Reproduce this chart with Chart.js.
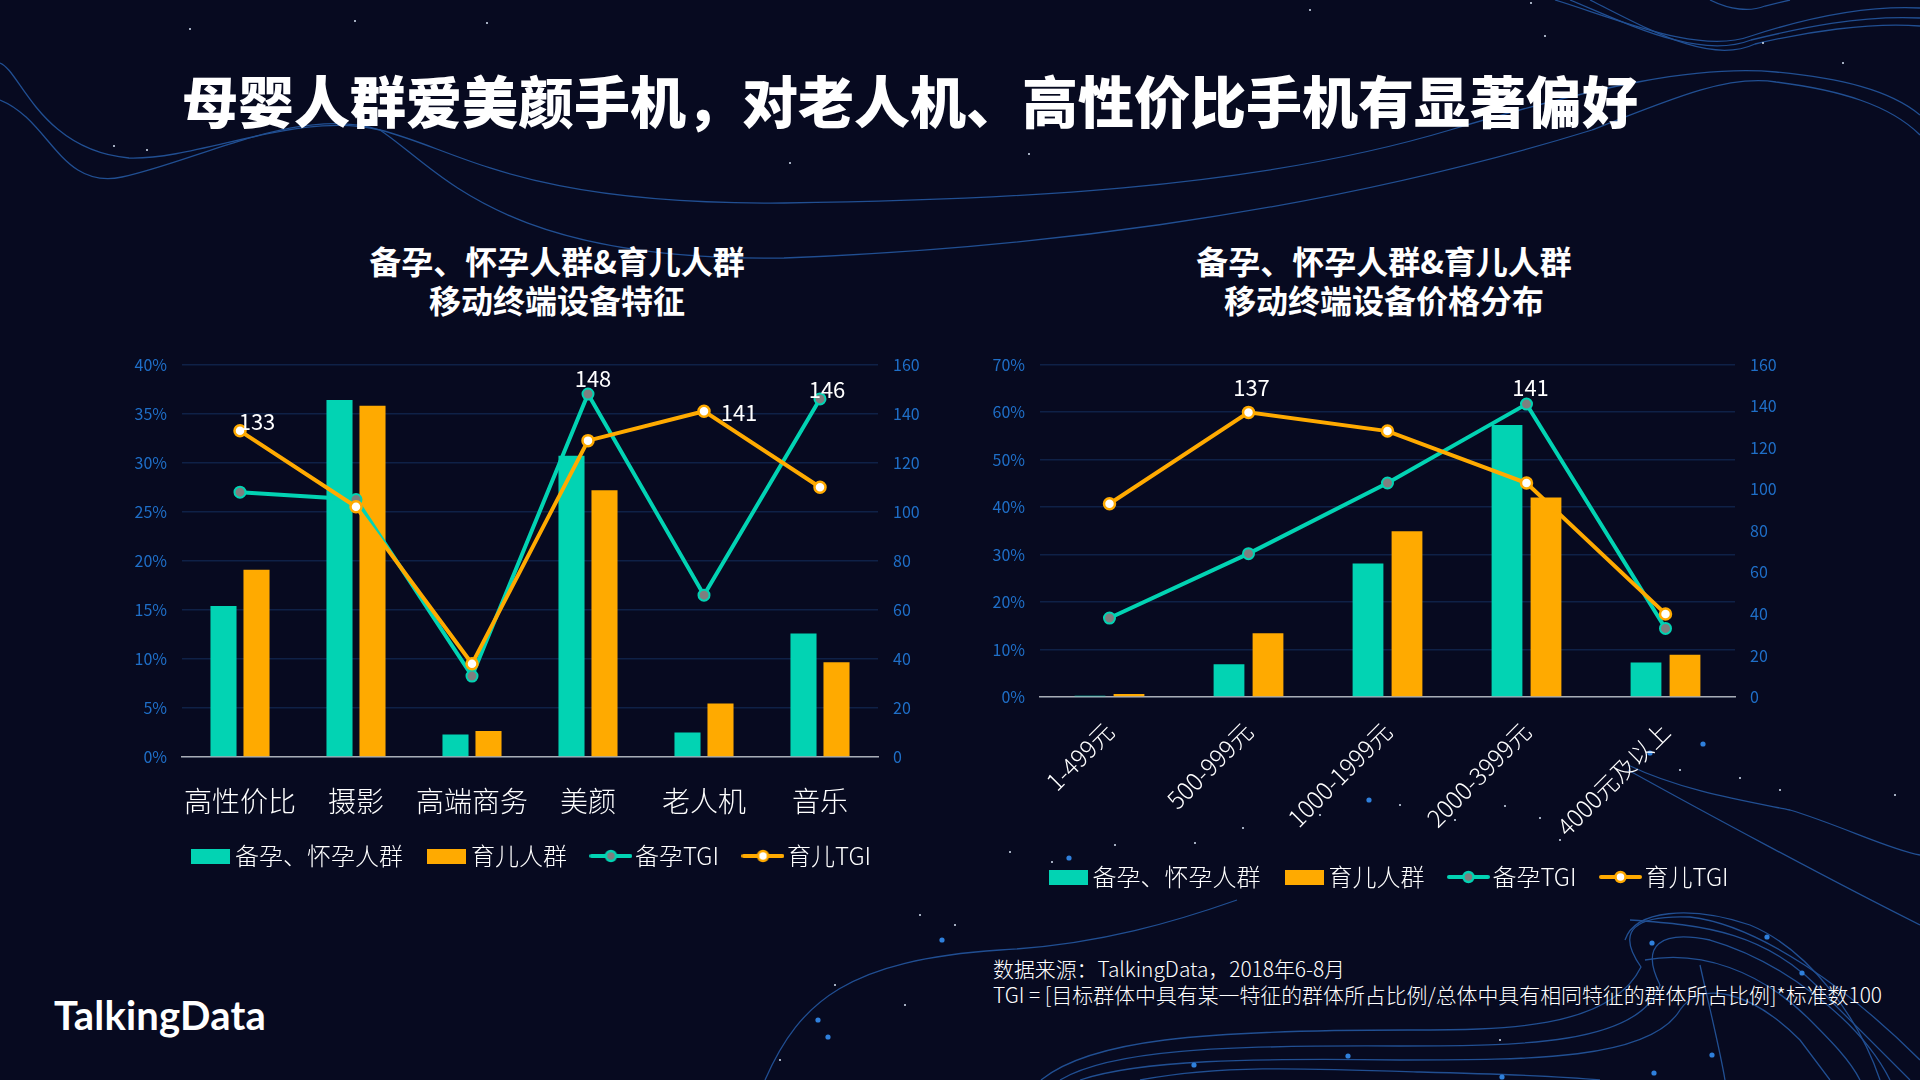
<!DOCTYPE html>
<html lang="zh">
<head>
<meta charset="utf-8">
<title>母婴人群爱美颜手机</title>
<script src="https://cdn.jsdelivr.net/npm/chart.js@4"></script>
<style>
  html, body { margin: 0; padding: 0; background: #070a20; }
  #page { position: relative; width: 1920px; height: 1080px; overflow: hidden; background: #070a20; font-family: "Noto Sans CJK SC", sans-serif; color: #fff; }
  #bg { position: absolute; left: 0; top: 0; }
  canvas { position: absolute; }
  .text { position: absolute; white-space: nowrap; }
  #title { left: 182px; top: 59px; font-size: 56px; line-height: 80px; font-weight: 900; }
  .sub { font-size: 32px; line-height: 39px; font-weight: 700; text-align: center; width: 600px; top: 241px; }
  #note { left: 993px; top: 955px; font-size: 20.9px; line-height: 26px; font-weight: 300; }
  #logo { left: 54px; top: 990px; font-family: Lato, sans-serif; font-size: 40px; line-height: 50px; font-weight: 700; letter-spacing: 0.2px; }
</style>
</head>
<body>
<div id="page">
  <svg id="bg" width="1920" height="1080" fill="none" stroke="#2a66b8" stroke-width="1.3">
    <g opacity="0.75">
      <path d="M0 63 C20 70 40 150 129 158 C200 160 300 110 380 130 C460 150 520 205 784 203 C1000 200 1250 190 1450 130 C1600 85 1700 65 1776 72 C1840 78 1890 90 1920 115"/>
      <path d="M0 100 C50 120 60 190 122 177 C200 160 300 105 380 130 C440 170 500 262 784 258 C1000 250 1300 220 1592 130 C1680 95 1730 75 1776 82 C1840 90 1890 105 1920 135"/>
      <path d="M1555 0 C1620 20 1700 55 1751 36 C1800 20 1860 5 1920 8"/>
      <path d="M1570 0 C1630 25 1700 60 1751 40 C1800 28 1860 15 1920 18"/>
      <path d="M1590 0 C1650 30 1710 65 1755 44 C1805 32 1870 22 1920 26"/>
      <path d="M1710 0 C1730 10 1750 12 1765 6 L1790 0"/>
      <path d="M765 1080 C800 1000 850 960 1000 950 C1100 945 1180 920 1237 900"/>
      <path d="M1041 1080 C1090 1040 1200 1030 1408 1030 C1500 1030 1610 1030 1641 967 C1615 930 1635 915 1690 917 C1760 925 1850 990 1920 1060"/>
      <path d="M1060 1080 C1110 1050 1220 1045 1400 1046 C1520 1046 1640 1045 1660 985 C1640 945 1660 930 1710 940 C1780 960 1860 1020 1890 1080"/>
      <path d="M1080 1080 C1140 1060 1250 1058 1400 1060 C1530 1060 1650 1060 1680 1010 C1700 980 1750 990 1800 1040 L1830 1080"/>
      <path d="M1140 1080 C1220 1065 1300 1068 1420 1072 C1500 1074 1560 1076 1600 1080"/>
      <path d="M1700 965 C1710 1010 1720 1050 1725 1080"/>
      <path d="M1628 765 C1680 790 1740 800 1790 810 C1840 825 1890 850 1920 855"/>
      <path d="M1628 770 C1700 810 1830 880 1920 925"/>
      <path d="M1630 920 C1700 925 1770 930 1830 1000 C1860 1030 1890 1060 1910 1080"/>
      <path d="M1625 940 C1635 910 1690 905 1750 925 C1810 950 1860 1020 1880 1080"/>
      <path d="M1645 960 C1700 950 1760 970 1810 1020 C1830 1040 1850 1060 1860 1080"/>
    </g>
    <g fill="#2f80dc" stroke="none">
      <circle cx="942" cy="940" r="2.6"/><circle cx="818" cy="1020" r="2.6"/><circle cx="828" cy="1037" r="2.6"/>
      <circle cx="1194" cy="1065" r="2.6"/><circle cx="1348" cy="1056" r="2.6"/><circle cx="1652" cy="943" r="2.6"/>
      <circle cx="1767" cy="937" r="2.6"/><circle cx="1802" cy="973" r="2.6"/><circle cx="1502" cy="1077" r="2.6"/>
      <circle cx="1654" cy="1073" r="2.6"/><circle cx="1712" cy="1055" r="2.6"/><circle cx="1703" cy="744" r="2.6"/>
      <circle cx="1650" cy="753" r="2.6"/><circle cx="1369" cy="800" r="2.6"/><circle cx="1069" cy="858" r="2.6"/>
    </g>
    <g fill="#d8e4f5" stroke="none">
      <circle cx="190" cy="29" r="1"/><circle cx="355" cy="21" r="1"/><circle cx="487" cy="23" r="1"/>
      <circle cx="790" cy="163" r="1"/><circle cx="114" cy="146" r="1"/><circle cx="147" cy="150" r="1"/>
      <circle cx="1029" cy="154" r="1"/><circle cx="1531" cy="3" r="1"/><circle cx="1545" cy="36" r="1"/>
      <circle cx="1843" cy="63" r="1"/><circle cx="1763" cy="43" r="1"/><circle cx="1310" cy="10" r="1"/>
      <circle cx="1010" cy="852" r="1"/><circle cx="1052" cy="862" r="1"/><circle cx="1115" cy="845" r="1"/>
      <circle cx="1195" cy="843" r="1"/><circle cx="1243" cy="828" r="1"/><circle cx="1320" cy="815" r="1"/>
      <circle cx="1400" cy="805" r="1"/><circle cx="1455" cy="820" r="1"/><circle cx="1505" cy="806" r="1"/>
      <circle cx="1540" cy="818" r="1"/><circle cx="1560" cy="840" r="1"/><circle cx="1680" cy="770" r="1"/>
      <circle cx="1740" cy="778" r="1"/><circle cx="1780" cy="790" r="1"/><circle cx="1895" cy="795" r="1"/>
      <circle cx="920" cy="915" r="1"/><circle cx="955" cy="925" r="1"/><circle cx="905" cy="1005" r="1"/>
      <circle cx="835" cy="985" r="1"/><circle cx="780" cy="1060" r="1"/><circle cx="1500" cy="1040" r="1"/>
    </g>
  </svg>

  <div class="text" id="title">母婴人群爱美颜手机，对老人机、高性价比手机有显著偏好</div>
  <div class="text sub" style="left:257px">备孕、怀孕人群&amp;育儿人群<br>移动终端设备特征</div>
  <div class="text sub" style="left:1084px">备孕、怀孕人群&amp;育儿人群<br>移动终端设备价格分布</div>

  <canvas id="featureChart" width="890" height="538" style="left:90px;top:340px"></canvas>
  <canvas id="priceChart" width="865" height="559" style="left:960px;top:340px"></canvas>

  <div class="text" id="note">数据来源：TalkingData，2018年6-8月<br>TGI = [目标群体中具有某一特征的群体所占比例/总体中具有相同特征的群体所占比例]*标准数100</div>
  <div class="text" id="logo">TalkingData</div>
</div>

<script>
// left chart
const featureCategories = ["高性价比", "摄影", "高端商务", "美颜", "老人机", "音乐"];
const featurePregnant = [15.4, 36.4, 2.3, 30.7, 2.5, 12.6];
const featureParenting = [19.1, 35.8, 2.65, 27.2, 5.45, 9.65];
const featurePregnantTgi = [108, 105, 33, 148, 66, 146];
const featureParentingTgi = [133, 102, 38, 129, 141, 110];

// right chart
const priceCategories = ["1-499元", "500-999元", "1000-1999元", "2000-3999元", "4000元及以上"];
const pricePregnant = [0.25, 6.9, 28.1, 57.3, 7.25];
const priceParenting = [0.65, 13.4, 34.9, 42, 8.9];
const pricePregnantTgi = [38, 69, 103, 141, 33];
const priceParentingTgi = [93, 137, 128, 103, 40];

const seriesNames = ["备孕、怀孕人群", "育儿人群", "备孕TGI", "育儿TGI"];

const COLORS = {
  teal: "#02d3b3",
  orange: "#ffaa00",
  grid: "#0f2147",
  axis: "#a9adb5",
  tick: "#1f6fc8",
  white: "#ffffff",
  markerTeal: "#7f7f7f",
};
const FONT = "'Noto Sans CJK SC', sans-serif";

Chart.defaults.font.family = FONT;
Chart.defaults.devicePixelRatio = 1;

function barSwatch(color) {
  const c = document.createElement("canvas");
  c.width = 39;
  c.height = 15;
  const g = c.getContext("2d");
  g.fillStyle = color;
  g.fillRect(0, 0, 39, 15);
  return c;
}

function lineSwatch(color, fill) {
  const c = document.createElement("canvas");
  c.width = 43;
  c.height = 16;
  const g = c.getContext("2d");
  g.strokeStyle = color;
  g.lineWidth = 4;
  g.lineCap = "round";
  g.beginPath();
  g.moveTo(2, 8);
  g.lineTo(41, 8);
  g.stroke();
  g.fillStyle = fill;
  g.lineWidth = 2.5;
  g.beginPath();
  g.arc(21.5, 8, 5, 0, Math.PI * 2);
  g.fill();
  g.stroke();
  return c;
}

const swatches = [
  barSwatch(COLORS.teal),
  barSwatch(COLORS.orange),
  lineSwatch(COLORS.teal, COLORS.markerTeal),
  lineSwatch(COLORS.orange, COLORS.white),
];

// draws the few value labels next to their points
const pointLabels = {
  id: "pointLabels",
  afterDatasetsDraw(chart, args, opts) {
    const ctx = chart.ctx;
    ctx.save();
    ctx.font = `22px ${FONT}`;
    ctx.fillStyle = COLORS.white;
    ctx.textAlign = "center";
    ctx.textBaseline = "middle";
    opts.items.forEach(([ds, i, dx, dy]) => {
      const pt = chart.getDatasetMeta(ds).data[i];
      ctx.fillText(String(chart.data.datasets[ds].data[i]), pt.x + dx, pt.y + dy);
    });
    ctx.restore();
  },
};

// the x labels get clipped to the scale box, let them run down past the legend edge
const unclipLabels = {
  id: "unclipLabels",
  afterLayout(chart) {
    chart.scales.x.bottom = chart.height;
  },
};

function makeChart(id, cfg) {
  return new Chart(document.getElementById(id), {
    type: "bar",
    plugins: [pointLabels, unclipLabels],
    data: {
      labels: cfg.labels,
      datasets: [
        { label: seriesNames[0], data: cfg.barA, backgroundColor: COLORS.teal, order: 2, yAxisID: "y",
          categoryPercentage: cfg.catPct, barPercentage: 0.79 },
        { label: seriesNames[1], data: cfg.barB, backgroundColor: COLORS.orange, order: 3, yAxisID: "y",
          categoryPercentage: cfg.catPct, barPercentage: 0.79 },
        { type: "line", label: seriesNames[2], data: cfg.lineA, borderColor: COLORS.teal, borderWidth: 4,
          pointBackgroundColor: COLORS.markerTeal, pointBorderColor: COLORS.teal, pointBorderWidth: 2,
          pointRadius: 5.5, tension: 0, order: 1, yAxisID: "y1" },
        { type: "line", label: seriesNames[3], data: cfg.lineB, borderColor: COLORS.orange, borderWidth: 4,
          pointBackgroundColor: COLORS.white, pointBorderColor: COLORS.orange, pointBorderWidth: 2.5,
          pointRadius: 5.5, tension: 0, order: 0, yAxisID: "y1" },
      ],
    },
    options: {
      responsive: false,
      animation: false,
      layout: { padding: { top: 14.6, left: 0, right: 0, bottom: 0 } },
      plugins: {
        title: { display: false },
        tooltip: { enabled: false },
        pointLabels: { items: cfg.valueLabels },
        legend: {
          position: "bottom",
          labels: {
            color: COLORS.white,
            font: { size: 24, weight: "300" },
            usePointStyle: true,
            pointStyleWidth: 24,
            padding: 32,
            generateLabels: (chart) =>
              chart.data.datasets.map((d, i) => ({
                text: d.label,
                datasetIndex: i,
                pointStyle: swatches[i],
                fontColor: COLORS.white,
                lineWidth: 0,
              })),
          },
        },
      },
      scales: {
        x: {
          afterFit: (s) => { s.height = cfg.xHeight; },
          grid: { display: false, drawTicks: false },
          border: { color: COLORS.axis, width: 1.5 },
          ticks: {
            color: COLORS.white,
            font: { size: cfg.xFont, weight: "300" },
            padding: cfg.xPadding,
            minRotation: cfg.rotation,
            maxRotation: cfg.rotation,
            autoSkip: false,
          },
        },
        y: {
          position: "left",
          min: 0,
          max: cfg.leftMax,
          afterFit: (s) => { s.width = cfg.leftWidth; },
          grid: { color: COLORS.grid, lineWidth: 1.5, drawTicks: false },
          border: { display: false },
          ticks: { stepSize: cfg.leftStep, color: COLORS.tick, padding: 15, font: { size: 16 }, callback: (v) => `${v}%` },
        },
        y1: {
          position: "right",
          min: 0,
          max: 160,
          afterFit: (s) => { s.width = cfg.rightWidth; },
          grid: { display: false, drawTicks: false },
          border: { display: false },
          ticks: { stepSize: 20, color: COLORS.tick, padding: 15, font: { size: 16 } },
        },
      },
    },
  });
}

makeChart("featureChart", {
  labels: featureCategories,
  barA: featurePregnant,
  barB: featureParenting,
  lineA: featurePregnantTgi,
  lineB: featureParentingTgi,
  catPct: 0.569,
  leftMax: 40,
  leftStep: 5,
  leftWidth: 92,
  rightWidth: 102,
  xHeight: 55,
  xFont: 28,
  xPadding: 28,
  rotation: 0,
  valueLabels: [[3, 0, 17, -9], [2, 3, 5, -15], [3, 4, 35, 1], [2, 5, 7, -9]],
});

makeChart("priceChart", {
  labels: priceCategories,
  barA: pricePregnant,
  barB: priceParenting,
  lineA: pricePregnantTgi,
  lineB: priceParentingTgi,
  catPct: 0.561,
  leftMax: 70,
  leftStep: 10,
  leftWidth: 80,
  rightWidth: 90,
  xHeight: 136,
  xFont: 24,
  xPadding: 20,
  rotation: 45,
  valueLabels: [[3, 1, 3, -25], [2, 3, 4, -16]],
});
</script>
</body>
</html>
